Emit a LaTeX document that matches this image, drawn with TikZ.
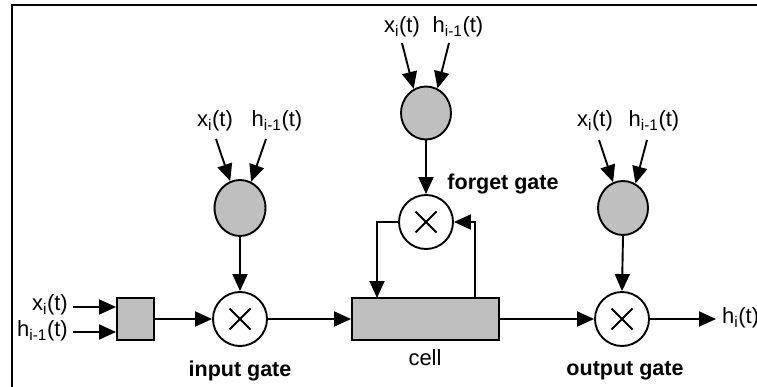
\documentclass[tikz,border=0pt]{standalone}
\usepackage{fontspec}
\setmainfont{Liberation Sans}
\usetikzlibrary{arrows.meta,shapes.geometric}
\tikzset{
  ln/.style={line width=1.9pt, draw=black},
  arr/.style={ln, -{Triangle[length=17pt,width=15pt]}},
  gatex/.style={circle, ln, fill=white, minimum size=54pt, inner sep=0pt},
  sig/.style={ellipse, ln, fill=gray!50, minimum width=51pt, minimum height=54pt, inner sep=0pt},
  gbox/.style={rectangle, ln, fill=gray!50, inner sep=0pt},
  lbl/.style={font=\fontsize{22}{26}\selectfont, inner sep=1pt},
  blbl/.style={font=\fontsize{21.5}{26}\selectfont\bfseries, inner sep=1pt}
}
\newcommand{\xit}{x\textsubscript{i}(t)}
\newcommand{\hit}{h\textsubscript{i-1}(t)}
\begin{document}
\begin{tikzpicture}[x=1pt,y=-1pt]
\useasboundingbox (0,0) rectangle (757,387);
% frame
\draw[line width=2pt] (12,387) -- (12,5.5) -- (757,5.5);

% input side
\node[gbox, minimum width=37pt, minimum height=42pt] (box) at (135.5,319) {};
\node[lbl, anchor=east] (xin) at (69,305) {\xit};
\node[lbl, anchor=east] (hin) at (69,331) {\hit};
\draw[arr] ([xshift=4pt]xin.east |- 0,307) -- (box.west |- 0,307);
\draw[arr] ([xshift=4pt]hin.east |- 0,332) -- (box.west |- 0,332);

% input gate
\node[gatex] (igx) at (240,319) {};
\draw[line width=2pt] ([shift={(-10.5,-10.5)}]igx.center) -- ([shift={(10.5,10.5)}]igx.center)
  ([shift={(-10.5,10.5)}]igx.center) -- ([shift={(10.5,-10.5)}]igx.center);
\node[sig, minimum height=56pt] (igc) at (240,208) {};
\node[lbl] (igxl) at (215,121) {\xit};
\node[lbl] (ighl) at (277,121) {\hit};
\coordinate (ia1) at (216,139);
\coordinate (ia2) at (266,139);
\draw[arr] (ia1) -- (igc.110);
\draw[arr] (ia2) -- (igc.67);
\draw[arr] (igc.south) -- (igx.north);
\draw[arr] (box.east) -- (igx.west);
\node[blbl] (igl) at (240,371) {input gate};

% cell
\node[gbox, minimum width=147pt, minimum height=42pt] (cell) at (425.5,319) {};
\node[lbl] (celll) at (425,358) {cell};
\draw[arr] (igx.east) -- (cell.west);

% forget gate
\node[gatex] (fgx) at (426,222) {};
\draw[line width=2pt] ([shift={(-10.5,-10.5)}]fgx.center) -- ([shift={(10.5,10.5)}]fgx.center)
  ([shift={(-10.5,10.5)}]fgx.center) -- ([shift={(10.5,-10.5)}]fgx.center);
\node[sig, minimum height=53pt, minimum width=50pt] (fgc) at (426,113) {};
\node[lbl] (fgxl) at (402,27) {\xit};
\node[lbl] (fghl) at (458,27) {\hit};
\coordinate (fa1) at (402,43);
\coordinate (fa2) at (449,43);
\draw[arr] (fa1) -- (fgc.117);
\draw[arr] (fa2) -- (fgc.65);
\draw[arr] (fgc.south) -- (fgx.north);
\node[blbl] (fgl) at (503,184) {forget gate};
\coordinate (fl) at (377,298);
\coordinate (fr) at (475,298);
\draw[arr] (fgx.west) -| (fl);
\draw[arr] (fr) |- (fgx.east);

% output gate
\node[gatex] (ogx) at (622,319) {};
\draw[line width=2pt] ([shift={(-10.5,-10.5)}]ogx.center) -- ([shift={(10.5,10.5)}]ogx.center)
  ([shift={(-10.5,10.5)}]ogx.center) -- ([shift={(10.5,-10.5)}]ogx.center);
\node[sig, minimum width=50pt] (ogc) at (623,208) {};
\node[lbl] (ogxl) at (595,121) {\xit};
\node[lbl] (oghl) at (654,121) {\hit};
\coordinate (oa1) at (599,140);
\coordinate (oa2) at (647,140);
\draw[arr] (oa1) -- (ogc.111);
\draw[arr] (oa2) -- (ogc.63);
\draw[arr] (ogc.south) -- (ogx.north);
\draw[arr] (cell.east) -- (ogx.west);
\node[blbl] (ogl) at (625,371) {output gate};
\node[lbl, anchor=west] (hout) at (721,318) {h\textsubscript{i}(t)};
\draw[arr] (ogx.east) -- ([xshift=-5pt]hout.west |- ogx.east);
\end{tikzpicture}
\end{document}
